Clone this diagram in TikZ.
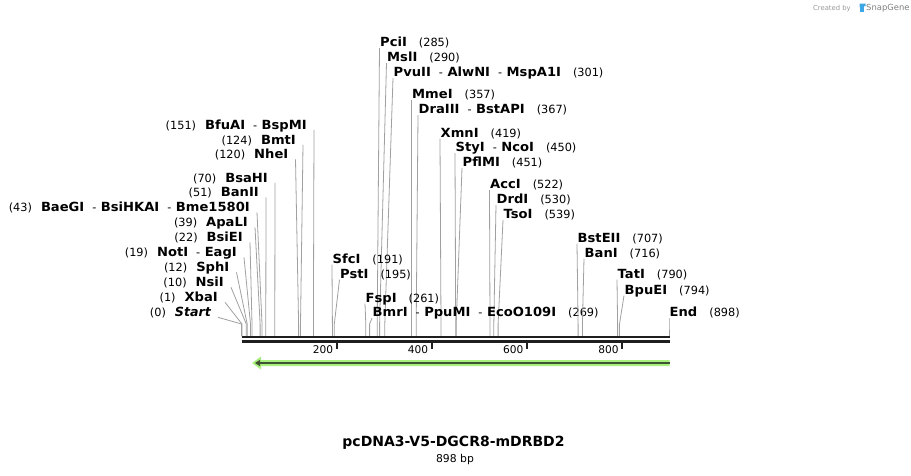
\documentclass[tikz,border=0pt]{standalone}
\usepackage{fontspec}
\setmainfont{DejaVu Sans}
\newfontfamily\bfnt{DejaVu Sans Bold}[FakeStretch=1.04]
\usetikzlibrary{calc}
\definecolor{leadgray}{HTML}{A0A0A0}
\definecolor{glowgreen}{HTML}{A8F07E}
\definecolor{darkgreen}{HTML}{3F5234}
\definecolor{sgblue}{HTML}{3FA6E6}
\newcommand\nm[1]{{\fontsize{12.6}{14}\bfnt #1}}
\newcommand\nmi[1]{{\fontsize{12.6}{14}\selectfont\bfseries\itshape #1}}
\newcommand\sepa{\hspace{8pt}-\hspace{4.5pt}}
\tikzset{
  lab/.style={inner sep=0pt, font=\fontsize{11.3}{12}\selectfont},
  leader/.style={draw=leadgray, line width=0.8pt},
  barline/.style={draw=black!88, line width=2.7pt},
  tickmark/.style={draw=black!88, line width=1.8pt},
}
% left label: id, right x, centre y, site x, text
\newcommand\lsite[5]{%
  \node[lab, anchor=base east] (#1) at (#2,#3+4.5) {#5};
  \coordinate (#1b) at (#4,324);
  \coordinate (#1s) at (#4,336);
  \draw[leader] ($(#1.base east)+(7,0.8)$) -- (#1b) -- (#1s);
}
% right label: id, left x, centre y, site x, text
\newcommand\rsite[5]{%
  \node[lab, anchor=base west] (#1) at (#2,#3+4.5) {#5};
  \coordinate (#1b) at (#4,324);
  \coordinate (#1s) at (#4,336);
  \draw[leader] ($(#1.base west)+(-0.5,1.6)$) -- (#1b) -- (#1s);
}
\begin{document}
\begin{tikzpicture}[x=1pt,y=-1pt]
\useasboundingbox (0,0) rectangle (911,475);
\fill[white] (0,0) rectangle (911,475);

% watermark
\node[inner sep=0pt, anchor=base west, text=black!40, font=\fontsize{6.8}{7}\selectfont] (wm1) at (813,10) {Created by};
\fill[sgblue] (859.5,3.5) rectangle (863.5,12);
\fill[sgblue] (859.5,3.5) -- (865.5,3.5) -- (865.5,6) -- (859.5,7) -- cycle;
\node[inner sep=0pt, anchor=base west, text=black!50, font=\fontsize{8.4}{9}\selectfont] (wm2) at (866,10.5) {SnapGene};

% left labels
\lsite{L0}{211}{312}{241.5}{(0)\hspace{9pt}\nmi{Start}}
\lsite{L1}{218}{297}{242.0}{(1)\hspace{9pt}\nm{XbaI}}
\lsite{L2}{224}{282}{246.3}{(10)\hspace{9pt}\nm{NsiI}}
\lsite{L3}{229.5}{267}{247.2}{(12)\hspace{9pt}\nm{SphI}}
\lsite{L4}{237}{252}{250.5}{(19)\hspace{9pt}\nm{NotI}\sepa\nm{EagI}}
\lsite{L5}{243}{237}{252.0}{(22)\hspace{9pt}\nm{BsiEI}}
\lsite{L6}{248}{222}{260.1}{(39)\hspace{9pt}\nm{ApaLI}}
\lsite{L7}{250}{207}{262.0}{(43)\hspace{9pt}\nm{BaeGI}\sepa\nm{BsiHKAI}\sepa\nm{Bme1580I}}
\lsite{L8}{259}{192}{265.8}{(51)\hspace{9pt}\nm{BanII}}
\lsite{L9}{268}{177.5}{274.8}{(70)\hspace{9pt}\nm{BsaHI}}
\lsite{L10}{288.5}{154}{298.6}{(120)\hspace{9pt}\nm{NheI}}
\lsite{L11}{296}{139.5}{300.5}{(124)\hspace{9pt}\nm{BmtI}}
\lsite{L12}{307}{124.5}{313.4}{(151)\hspace{9pt}\nm{BfuAI}\sepa\nm{BspMI}}

% right labels
\rsite{R1}{380}{42}{377.2}{\nm{PciI}\hspace{12pt}(285)}
\rsite{R2}{387}{57}{379.6}{\nm{MslI}\hspace{12pt}(290)}
\rsite{R3}{393.5}{72}{384.8}{\nm{PvuII}\sepa\nm{AlwNI}\sepa\nm{MspA1I}\hspace{12pt}(301)}
\rsite{R4}{412}{94}{411.5}{\nm{MmeI}\hspace{12pt}(357)}
\rsite{R5}{418.5}{109}{416.2}{\nm{DraIII}\sepa\nm{BstAPI}\hspace{12pt}(367)}
\rsite{R6}{440.5}{132.5}{441.0}{\nm{XmnI}\hspace{12pt}(419)}
\rsite{R7}{455.5}{147}{455.7}{\nm{StyI}\sepa\nm{NcoI}\hspace{12pt}(450)}
\rsite{R8}{462.5}{162}{456.2}{\nm{PflMI}\hspace{12pt}(451)}
\rsite{R9}{490}{184}{490.0}{\nm{AccI}\hspace{12pt}(522)}
\rsite{R10}{496.5}{199}{493.8}{\nm{DrdI}\hspace{12pt}(530)}
\rsite{R11}{503.5}{214}{498.1}{\nm{TsoI}\hspace{12pt}(539)}
\rsite{R12}{332.5}{258.5}{332.4}{\nm{SfcI}\hspace{12pt}(191)}
\rsite{R13}{340}{273.5}{334.3}{\nm{PstI}\hspace{12pt}(195)}
\rsite{R14}{365.5}{297.5}{365.8}{\nm{FspI}\hspace{12pt}(261)}
\rsite{R15}{372.5}{312}{369.6}{\nm{BmrI}\sepa\nm{PpuMI}\sepa\nm{EcoO109I}\hspace{12pt}(269)}
\rsite{R16}{577.5}{237.5}{578.1}{\nm{BstEII}\hspace{12pt}(707)}
\rsite{R17}{584.5}{252.5}{582.4}{\nm{BanI}\hspace{12pt}(716)}
\rsite{R18}{617.5}{273.5}{617.6}{\nm{TatI}\hspace{12pt}(790)}
\rsite{R19}{624.5}{289.5}{619.5}{\nm{BpuEI}\hspace{12pt}(794)}
\rsite{R20}{669.5}{312}{669.0}{\nm{End}\hspace{12pt}(898)}

% sequence bar
\coordinate (b0) at (241.5,337);
\coordinate (b1) at (669.5,337);
\coordinate (c0) at (241.5,341.4);
\coordinate (c1) at (669.5,341.4);
\draw[barline] (b0) -- (b1);
\draw[barline] (c0) -- (c1);

% ticks
\foreach \v/\xx in {200/336.7,400/431.9,600/527.1,800/622.3}{
  \coordinate (t\v a) at (\xx,341.4);
  \coordinate (t\v b) at (\xx,349);
  \draw[tickmark] (t\v a) -- (t\v b);
  \node[lab, anchor=east, font=\fontsize{10.6}{12}\selectfont] (tl\v) at (\xx-3.5,349.5) {\v};
}

% feature arrow
\coordinate (fa0) at (669.5,363);
\coordinate (fa1) at (253,363);
\fill[glowgreen] (252,363) -- (261,356.5) -- (261,360) -- (669.5,360) -- (669.5,366) -- (261,366) -- (261,369.5) -- cycle;
\draw[darkgreen, line width=1.8pt] (fa0) -- (258,363);
\fill[darkgreen] (255,363) -- (260,359.8) -- (260,366.2) -- cycle;

% title
\node[inner sep=0pt, font=\fontsize{14}{16}\selectfont\bfseries] (title) at (453.5,443) {pcDNA3-V5-DGCR8-mDRBD2};
\node[inner sep=0pt, font=\fontsize{10.8}{12}\selectfont] (len) at (455,459.5) {898 bp};
\end{tikzpicture}
\end{document}
